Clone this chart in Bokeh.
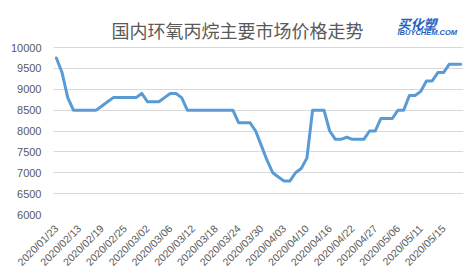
import math
from bokeh.plotting import figure
from bokeh.models import Range1d, FixedTicker, Label
from bokeh.embed import file_html
from bokeh.resources import INLINE

dates = ["2020/01/23", "2020/02/10", "2020/02/11", "2020/02/12", "2020/02/13", "2020/02/14",
         "2020/02/17", "2020/02/18", "2020/02/19", "2020/02/20", "2020/02/21", "2020/02/24",
         "2020/02/25", "2020/02/26", "2020/02/27", "2020/02/28", "2020/03/02", "2020/03/03",
         "2020/03/04", "2020/03/05", "2020/03/06", "2020/03/09", "2020/03/10", "2020/03/11",
         "2020/03/12", "2020/03/13", "2020/03/16", "2020/03/17", "2020/03/18", "2020/03/19",
         "2020/03/20", "2020/03/23", "2020/03/24", "2020/03/25", "2020/03/26", "2020/03/27",
         "2020/03/30", "2020/03/31", "2020/04/01", "2020/04/02", "2020/04/03", "2020/04/07",
         "2020/04/08", "2020/04/09", "2020/04/10", "2020/04/13", "2020/04/14", "2020/04/15",
         "2020/04/16", "2020/04/17", "2020/04/20", "2020/04/21", "2020/04/22", "2020/04/23",
         "2020/04/24", "2020/04/26", "2020/04/27", "2020/04/28", "2020/04/29", "2020/04/30",
         "2020/05/06", "2020/05/07", "2020/05/08", "2020/05/09", "2020/05/11", "2020/05/12",
         "2020/05/13", "2020/05/14", "2020/05/15", "2020/05/18", "2020/05/19", "2020/05/20"]

prices = [9750, 9400, 8800, 8500, 8500, 8500, 8500, 8500, 8600, 8700, 8800, 8800,
          8800, 8800, 8800, 8900, 8700, 8700, 8700, 8800, 8900, 8900, 8800, 8500,
          8500, 8500, 8500, 8500, 8500, 8500, 8500, 8500, 8200, 8200, 8200, 8000,
          7650, 7300, 7000, 6900, 6800, 6800, 7000, 7100, 7350, 8500, 8500, 8500,
          8000, 7800, 7800, 7850, 7800, 7800, 7800, 8000, 8000, 8300, 8300, 8300,
          8500, 8500, 8850, 8850, 8950, 9200, 9200, 9400, 9400, 9600, 9600, 9600]

y_ticks = [6000, 6500, 7000, 7500, 8000, 8500, 9000, 9500, 10000]
label_step = 4

title_text = "国内环氧丙烷主要市场价格走势"
logo_text = "买化塑"
logo_sub = "IBUYCHEM.COM"

idx = list(range(len(dates)))
x_ticks = idx[::label_step]

W, H = 475, 279
left, right, bottom = 53, 12, 65
top_gap_px = 47              # pixels between canvas top and the 10000 gridline
grid_px = H - bottom - top_gap_px
y_lo, y_hi = y_ticks[0], y_ticks[-1]
y_end = y_hi + (y_hi - y_lo) * top_gap_px / grid_px

p = figure(width=W, height=H, output_backend="svg", toolbar_location=None,
           x_range=Range1d(-0.5, len(dates) - 0.5), y_range=Range1d(y_lo, y_end),
           min_border_left=left, min_border_right=right, min_border_top=0,
           min_border_bottom=bottom)
p.outline_line_color = None
p.background_fill_color = "white"
p.border_fill_color = "white"
p.title.visible = False

p.line(idx, prices, line_color="#5b9bd5", line_width=3, line_join="round", line_cap="round")

p.xaxis.ticker = FixedTicker(ticks=x_ticks)
p.xaxis.major_label_overrides = {i: dates[i] for i in x_ticks}
p.xaxis.major_label_orientation = math.pi / 4
p.xaxis.axis_line_color = None
p.xaxis.major_tick_line_color = None
p.xaxis.minor_tick_line_color = None
p.xaxis.major_label_text_font = "Liberation Sans"
p.xaxis.major_label_text_font_size = "10.5px"
p.xaxis.major_label_text_color = "#595959"
p.xaxis.major_label_standoff = 6

p.yaxis.ticker = FixedTicker(ticks=y_ticks)
p.yaxis.axis_line_color = None
p.yaxis.major_tick_line_color = None
p.yaxis.minor_tick_line_color = None
p.yaxis.major_label_text_font = "Liberation Sans"
p.yaxis.major_label_text_font_size = "11px"
p.yaxis.major_label_text_color = "#595959"
p.yaxis.major_label_standoff = 6

p.xgrid.grid_line_color = None
p.ygrid.grid_line_color = "#d9d9d9"
p.ygrid.grid_line_width = 1

frame_h = H - bottom
# screen units: measured from the frame's bottom-left corner
title = Label(x=237 - left, y=frame_h - 29, x_units="screen", y_units="screen",
              text=title_text, text_font="Noto Sans CJK SC", text_font_size="18px",
              text_color="#595959", text_align="center", text_baseline="middle")
logo = Label(x=397 - left, y=frame_h - 23, x_units="screen", y_units="screen",
             text=logo_text, text_font="Noto Sans CJK SC", text_font_size="13px",
             text_font_style="bold italic", text_color="#1f5fbf", text_baseline="middle")
sub = Label(x=397 - left, y=frame_h - 31.5, x_units="screen", y_units="screen",
            text=logo_sub, text_font="Liberation Sans", text_font_size="7.5px",
            text_font_style="bold italic", text_color="#1f5fbf", text_baseline="middle")
p.add_layout(title)
p.add_layout(logo)
p.add_layout(sub)

open("out.html", "w").write(file_html(p, INLINE))
